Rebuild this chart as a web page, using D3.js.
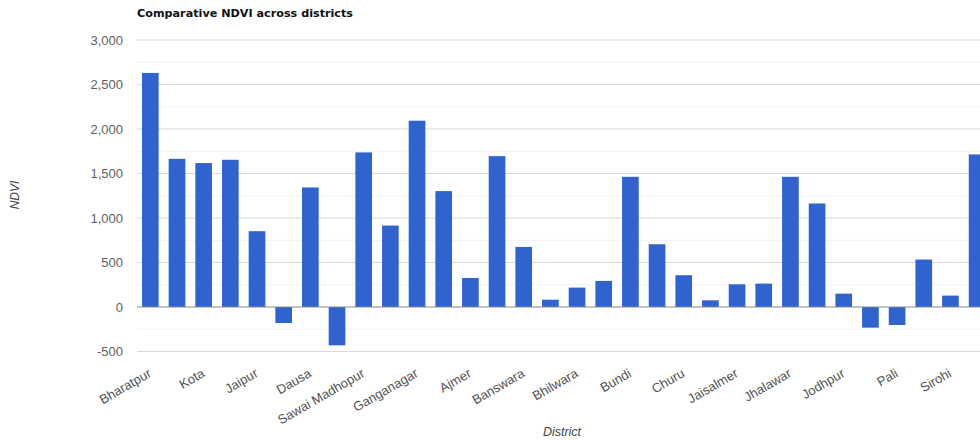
<!DOCTYPE html>
<html>
<head>
<meta charset="utf-8">
<script src="https://cdn.jsdelivr.net/npm/d3@7"></script>
<style>
  html, body { margin: 0; padding: 0; background: #fff; overflow: hidden; }
  svg { display: block; font-family: Arial, "Liberation Sans", sans-serif; }
</style>
</head>
<body>
<svg id="chart" width="980" height="441"></svg>
<script>
// District order as plotted; every other name is printed under the axis.
const districts = [
  "Bharatpur", "Alwar", "Kota", "Baran", "Jaipur", "Sikar", "Dausa", "Karauli",
  "Sawai Madhopur", "Tonk", "Ganganagar", "Hanumangarh", "Ajmer", "Dungarpur",
  "Banswara", "Chittorgarh", "Bhilwara", "Rajsamand", "Bundi", "Jhunjhunu",
  "Churu", "Bikaner", "Jaisalmer", "Barmer", "Jhalawar", "Dholpur",
  "Jodhpur", "Nagaur", "Pali", "Jalore", "Sirohi", "Udaipur"
];
const ndvi = [
  2630, 1665, 1617, 1654, 852, -180, 1343, -431,
  1737, 915, 2093, 1302, 326, 1695,
  675, 82, 218, 293, 1463, 705,
  357, 75, 255, 263, 1463, 1163,
  150, -232, -202, 533, 128, 1714
];
const yTicks = [-500, 0, 500, 1000, 1500, 2000, 2500, 3000];
const yMinor = [-250, 250, 750, 1250, 1750, 2250, 2750];

const svg = d3.select("#chart");
const plotLeft = 137, plotTop = 40, plotBottom = 351.5;
const step = 26.67;
const plotRight = plotLeft + step * districts.length;

const x = d3.scaleBand()
  .domain(districts)
  .range([plotLeft, plotRight])
  .paddingInner(0.375)
  .paddingOuter(0.1875);

const y = d3.scaleLinear().domain([-500, 3000]).range([plotBottom, plotTop]);

// Minor and major gridlines
svg.append("g").selectAll("line").data(yMinor).join("line")
  .attr("x1", plotLeft).attr("x2", 990)
  .attr("y1", d => y(d)).attr("y2", d => y(d))
  .attr("stroke", "#f1f1f1").attr("stroke-width", 1);

svg.append("g").selectAll("line").data(yTicks.filter(d => d !== 0)).join("line")
  .attr("x1", plotLeft).attr("x2", 990)
  .attr("y1", d => y(d)).attr("y2", d => y(d))
  .attr("stroke", "#d9d9d9").attr("stroke-width", 1);

// Y axis labels (plain hyphen for negatives)
const commaFmt = d3.format(",");
const yAxis = d3.axisLeft(y).tickValues(yTicks)
  .tickFormat(d => commaFmt(d).replace("\u2212", "-"))
  .tickSize(0).tickPadding(14);
const gy = svg.append("g").attr("transform", `translate(${plotLeft},0)`).call(yAxis);
gy.select(".domain").remove();
gy.selectAll("text")
  .attr("fill", "#5f5f5f")
  .style("font-size", "13px")
  .style("font-family", "Arial, 'Liberation Sans', sans-serif");

// Bars
svg.append("g").selectAll("rect").data(districts).join("rect")
  .attr("x", d => x(d))
  .attr("width", x.bandwidth())
  .attr("y", (d, i) => y(Math.max(0, ndvi[i])))
  .attr("height", (d, i) => Math.abs(y(ndvi[i]) - y(0)))
  .attr("fill", "#3063cb");

// Zero baseline
svg.append("line")
  .attr("x1", plotLeft).attr("x2", 990)
  .attr("y1", y(0)).attr("y2", y(0))
  .attr("stroke", "#8a8a8a").attr("stroke-width", 1);

// X axis labels, slanted, on alternate districts
const xAxis = d3.axisBottom(x)
  .tickValues(districts.filter((d, i) => i % 2 === 0))
  .tickSize(0).tickPadding(0);
const gx = svg.append("g").attr("transform", `translate(-3,${plotBottom + 16})`).call(xAxis);
gx.select(".domain").remove();
gx.selectAll("text")
  .attr("fill", "#505050")
  .style("font-size", "13px")
  .style("font-family", "Arial, 'Liberation Sans', sans-serif")
  .attr("text-anchor", "end")
  .attr("dy", "0.75em")
  .attr("transform", "rotate(-30)");

// Titles
svg.append("text")
  .attr("x", plotLeft).attr("y", 17)
  .attr("font-size", "11px").attr("font-weight", "bold").attr("fill", "#111")
  .attr("font-family", "'DejaVu Sans', Verdana, sans-serif")
  .attr("textLength", 216).attr("lengthAdjust", "spacingAndGlyphs")
  .text("Comparative NDVI across districts");

svg.append("text")
  .attr("transform", "translate(19,195) rotate(-90)")
  .attr("text-anchor", "middle")
  .attr("font-size", "12px").attr("font-style", "italic").attr("fill", "#444")
  .text("NDVI");

svg.append("text")
  .attr("x", 562).attr("y", 436)
  .attr("text-anchor", "middle")
  .attr("font-size", "12.5px").attr("font-style", "italic").attr("fill", "#444")
  .text("District");
</script>
</body>
</html>
